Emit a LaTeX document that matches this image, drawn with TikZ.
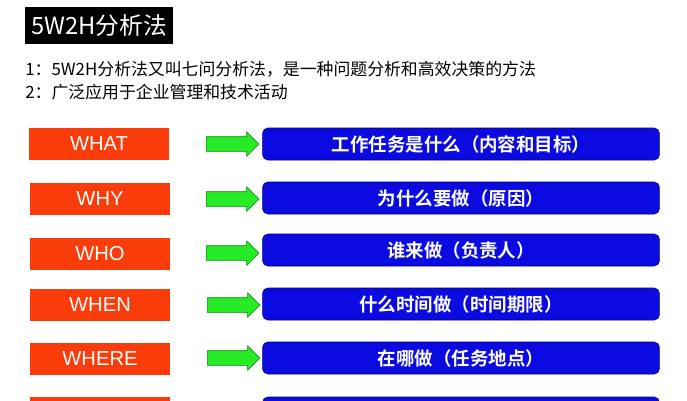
\documentclass[tikz,border=0pt]{standalone}
\usepackage{fontspec}
\setmainfont{Liberation Sans}
\newfontfamily\cjk{Noto Sans CJK SC}
\newfontfamily\cjkbold{Noto Sans CJK SC Bold}
\usetikzlibrary{shapes.arrows}
\definecolor{askred}{RGB}{250,60,10}
\definecolor{gogreen}{RGB}{40,235,40}
\definecolor{ansblue}{RGB}{10,10,225}
\begin{document}
\begin{tikzpicture}[x=0.02cm,y=-0.02cm]
\tikzstyle{ask}=[rectangle,fill=askred,text=white,minimum width=2.8cm,minimum height=0.64cm,inner sep=0pt,font=\fontsize{11.5}{11.5}\selectfont]
\tikzstyle{go}=[single arrow,fill=gogreen,draw=green!55!black,line width=0.3pt,minimum height=1.05cm,inner xsep=0pt,inner ysep=0.14cm,single arrow head extend=0.1cm,single arrow head indent=0pt]
\tikzstyle{ans}=[rectangle,rounded corners=3pt,fill=ansblue,draw=blue!40!black,line width=0.3pt,text=white,minimum width=7.94cm,minimum height=0.64cm,inner sep=0pt,font=\cjkbold\fontsize{10.5}{10.5}\selectfont]

\useasboundingbox (0,0) rectangle (687,400);
\clip (0,0) rectangle (687,400);

\node[fill=black,text=white,minimum width=2.96cm,minimum height=0.74cm,inner sep=0pt,font=\cjk\fontsize{13.5}{13.5}\selectfont] (title) at (99,25.5) {5W2H分析法};

\node[anchor=west,inner sep=0pt,font=\cjk\fontsize{9.6}{9.6}\selectfont] (lineOne) at (25,69) {1：5W2H分析法又叫七问分析法，是一种问题分析和高效决策的方法};
\node[anchor=west,inner sep=0pt,font=\cjk\fontsize{9.6}{9.6}\selectfont] (lineTwo) at (25,92) {2：广泛应用于企业管理和技术活动};

\node[ask] (what) at (99,144) {WHAT};
\node[go] (whatGo) at (229,144) {};
\node[ans] (whatAns) at (461,144) {工作任务是什么（内容和目标）};

\node[ask] (why) at (100,199) {WHY};
\node[go] (whyGo) at (229,199) {};
\node[ans] (whyAns) at (461,198) {为什么要做（原因）};

\node[ask] (who) at (100,254) {WHO};
\node[go] (whoGo) at (229,253) {};
\node[ans] (whoAns) at (461,250) {谁来做（负责人）};

\node[ask] (when) at (100,305) {WHEN};
\node[go] (whenGo) at (230,305) {};
\node[ans] (whenAns) at (461,304) {什么时间做（时间期限）};

\node[ask] (where) at (100,359) {WHERE};
\node[go] (whereGo) at (230,358) {};
\node[ans] (whereAns) at (461,358) {在哪做（任务地点）};

%the next row is cut off by the lower edge
\node[ask] (how) at (100,413) {};
\node[ans] (howAns) at (461,413) {};

\end{tikzpicture}
\end{document}
